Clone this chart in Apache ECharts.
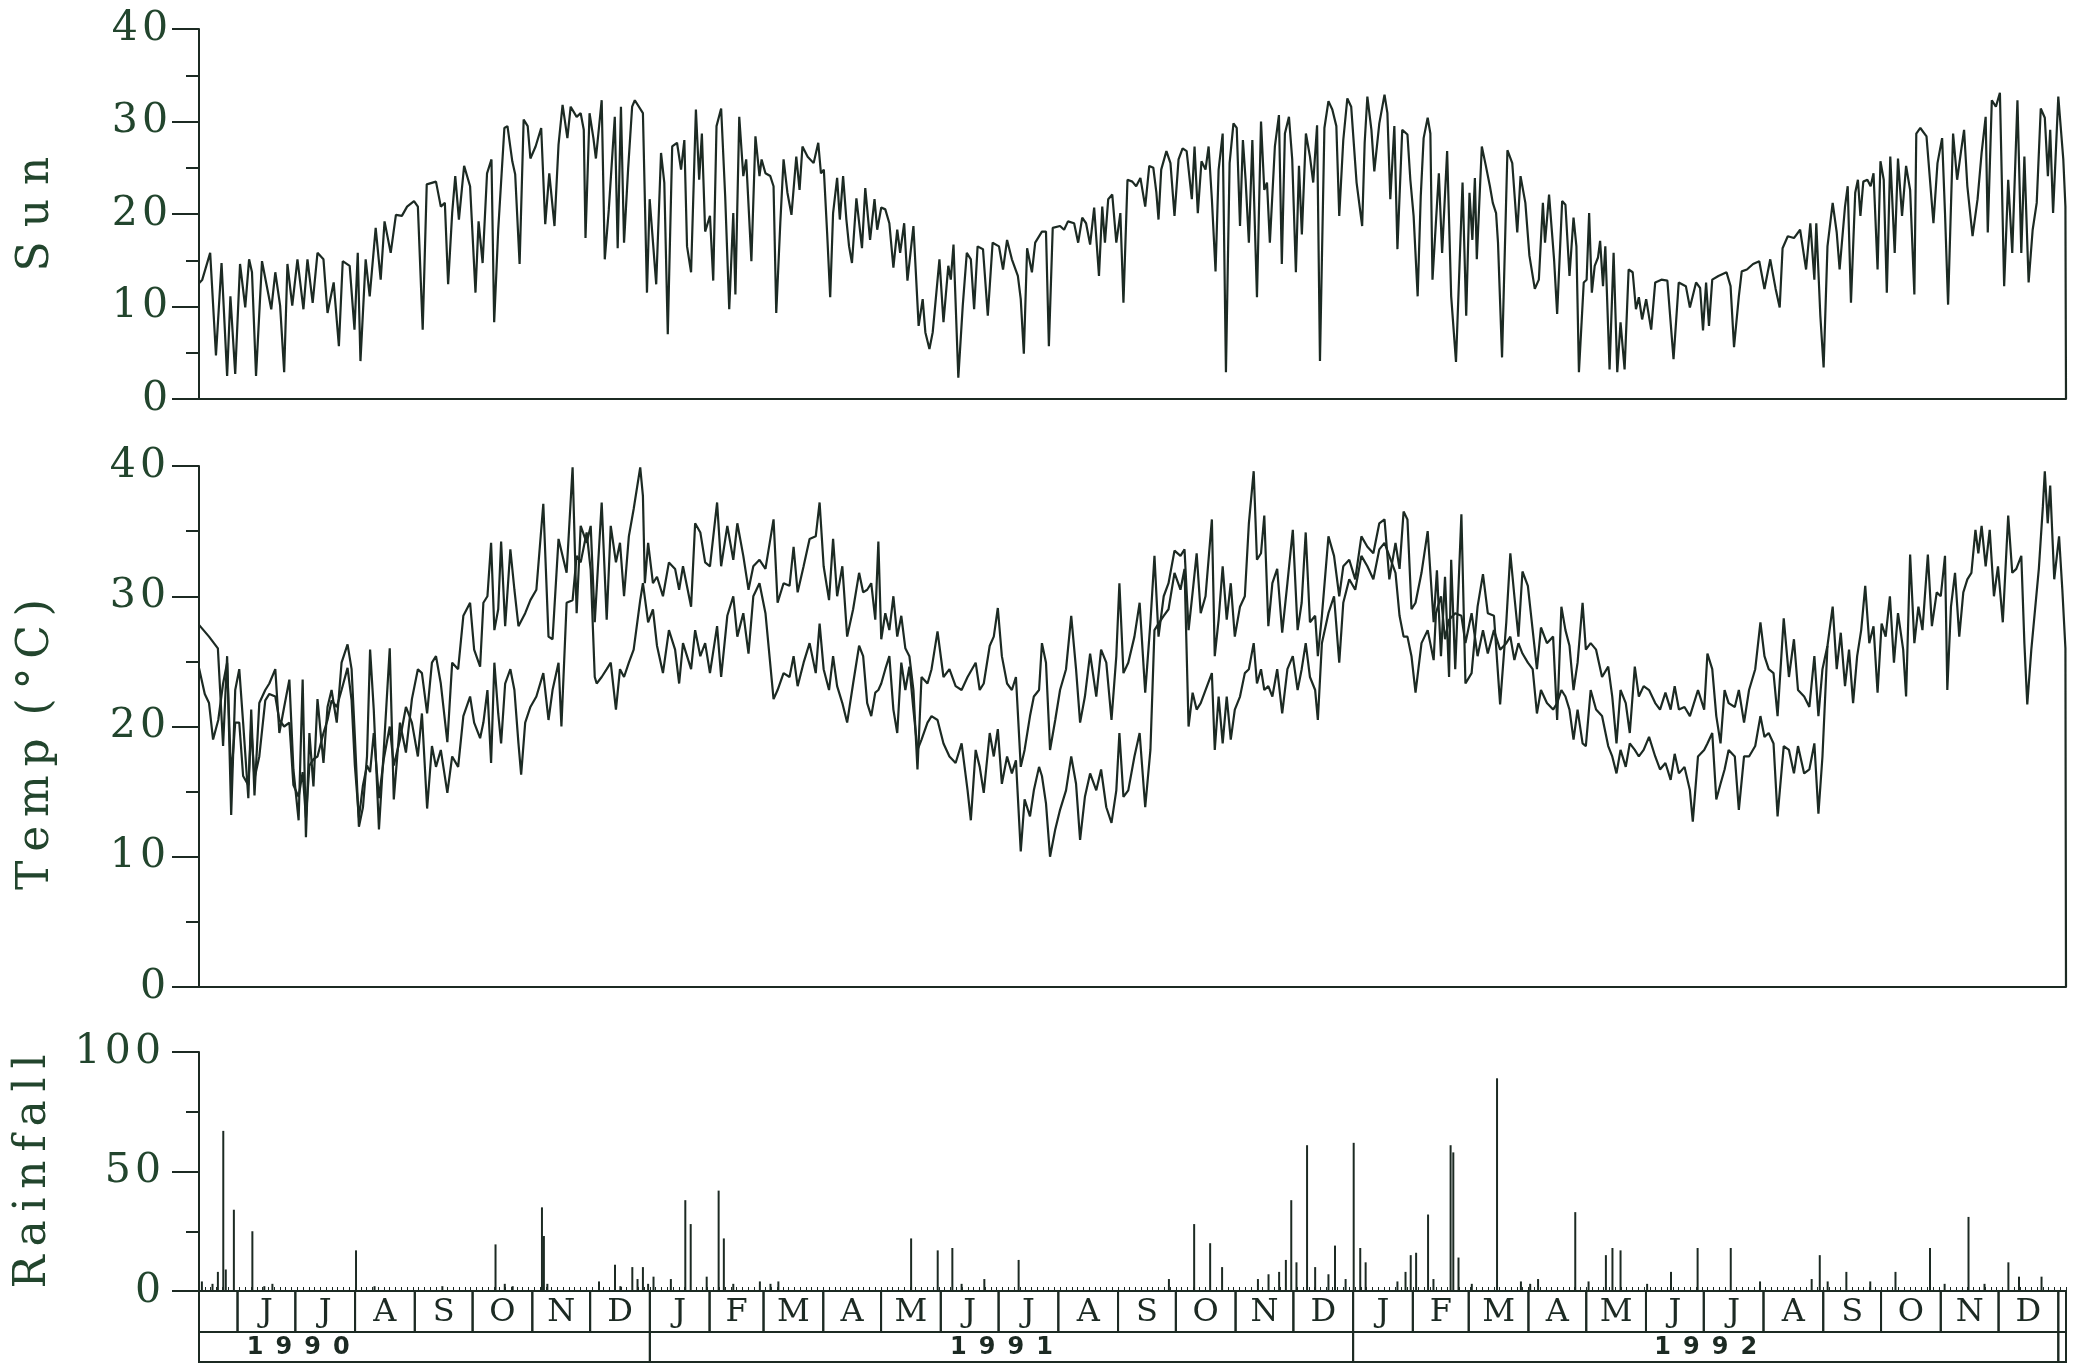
<!DOCTYPE html>
<html><head><meta charset="utf-8">
<script src="https://cdn.jsdelivr.net/npm/echarts@6/dist/echarts.min.js"></script>
<style>html,body{margin:0;padding:0;background:#fff}#c{width:2083px;height:1365px}</style>
</head><body><div id="c"></div>
<script>
// Day index 0 = 12 May 1990; axis ends at day 969 (4 Jan 1993)
const START_DATE = Date.UTC(1990, 4, 12);
const END_DAY = 969;

// Sun readings [day, value]
const sunReadings = [[0,12.5],[1.7,12.9],[5.8,15.8],[8.8,4.7],[11.7,14.7],[14.6,2.5],[16.3,11.1],[18.8,2.7],[21.3,14.6],[24,9.9],[26,15.1],[27.5,13.7],[29.6,2.5],[32.7,14.9],[37.5,9.7],[39.6,13.7],[42.1,10.1],[44.2,2.9],[45.9,14.6],[48.4,10.1],[51.1,15.1],[54.2,9.7],[56.3,15.1],[59,10.4],[61.5,15.8],[64.6,15.1],[66.7,9.3],[69.9,12.6],[72.6,5.7],[74.6,14.9],[78.2,14.4],[80.7,7.5],[82.4,15.8],[83.8,4.1],[86.5,15.1],[88.6,11.1],[91.7,18.5],[94.3,12.9],[96.3,19.2],[99.5,15.8],[102.2,19.9],[105.3,19.8],[108,20.8],[111.6,21.4],[113.6,20.8],[116.1,7.5],[118.2,23.2],[123,23.5],[125.5,20.8],[127.6,21.2],[129.3,12.4],[131.4,20.1],[133,24.1],[134.9,19.4],[137.6,25.2],[140.7,23],[143.5,11.5],[145.1,19.2],[147.2,14.7],[149.5,24.4],[151.8,25.9],[153.2,8.3],[155.3,18.3],[158.5,29.3],[160.1,29.5],[162.6,25.7],[164.1,24.3],[166.4,14.6],[168.5,30.2],[170.6,29.5],[172,26],[174.7,27.3],[177.6,29.3],[179.7,18.9],[181.8,24.4],[184.5,18.7],[186.6,27.5],[188.7,31.8],[191.2,28.2],[192.9,31.6],[196,30.5],[198.1,30.9],[199.7,29.1],[200.6,17.4],[202.7,30.9],[204.7,28.2],[206,26],[209,32.3],[210.6,15.1],[212.7,20.5],[215.8,30.5],[217.3,16.3],[219,31.6],[220.6,16.9],[222.7,24.8],[224.8,31.6],[226.2,32.3],[230.4,30.9],[232.5,11.5],[233.9,21.6],[237.3,12.4],[239.8,26.6],[241.5,23.4],[243.3,7],[245.6,27.3],[248.1,27.7],[250.2,24.8],[251.9,28],[253.3,16.5],[255.4,13.7],[257.9,31.3],[259.6,23.7],[261,28.7],[262.7,18.1],[265.2,19.8],[266.9,12.8],[268.6,29.5],[271,31.4],[273.1,21.9],[275.2,9.7],[277.3,20.1],[278.4,11.3],[280.4,30.5],[282.5,24.1],[284,25.9],[286.7,14.9],[288.8,28.4],[290.9,24.1],[292,25.9],[294,24.4],[296.5,24.1],[298.2,23],[299.6,9.3],[301.7,19],[303.4,25.9],[305.4,22.3],[307.5,19.9],[310,26.2],[311.7,22.6],[313.2,27.3],[315.9,26.2],[319,25.5],[321.4,27.7],[322.8,24.4],[324.3,24.8],[326,18],[327.6,11],[329.1,20.1],[331.2,23.9],[332.6,19.4],[334.3,24.1],[336,19.4],[337.4,16.5],[338.9,14.7],[341.2,21.7],[344.1,16.3],[345.8,22.8],[348.3,17.2],[350.6,21.6],[352,18.3],[354.1,20.7],[356.2,20.5],[358.3,19],[360.4,14.2],[362.4,18.3],[363.9,15.8],[366,19],[367.7,12.8],[370.8,18.7],[373.5,7.9],[375.6,10.8],[377,7.2],[379.1,5.4],[380.8,7.2],[384.3,15.1],[386.4,8.3],[388.9,14.4],[390.2,12.9],[391.6,16.7],[394.1,2.3],[396.4,10.1],[398.5,15.8],[400.6,15.1],[402.3,9.7],[404.1,16.5],[406.9,16.2],[409.4,9],[411.9,16.9],[415.2,16.5],[417.3,14],[419.4,17.2],[421.9,15.1],[425,13.3],[426.5,10.8],[428.1,4.9],[429.8,16.3],[432.3,13.7],[434,16.9],[437.5,18.1],[439.6,18.1],[441.1,5.7],[443.1,18.5],[446.9,18.7],[449,18.3],[451,19.2],[454.2,19],[456.3,16.9],[458.4,19.6],[460.4,19],[462.5,16.7],[464.6,20.7],[467.1,13.3],[468.8,20.8],[470.2,16.9],[471.9,21.6],[474,22.1],[476.1,16.9],[478.2,20.1],[479.8,10.4],[481.9,23.7],[484.4,23.5],[486.4,23],[488.6,23.9],[491.1,20.8],[493.2,25.2],[495.3,25],[496.9,22.3],[498,19.4],[499.4,24.8],[502.1,26.8],[504.2,25.5],[506.3,19.8],[508.4,25.9],[510.5,27.1],[512.6,26.8],[515.3,21.6],[516.7,27.3],[518.4,20.1],[520.3,25.7],[522.4,24.8],[524,27.3],[525.7,21.6],[527.6,13.8],[529.2,24.8],[531.3,28.7],[533,2.9],[534.9,25.5],[536.9,29.8],[538.6,29.3],[540.3,18.7],[541.8,28],[543.2,23.7],[544.9,16.9],[546.7,28],[549.1,11],[551.2,30],[552.9,22.6],[554.3,23.4],[555.8,16.9],[558.4,27.3],[560.5,30.7],[562,14.6],[563.6,28.7],[565.7,30.5],[567.4,25.9],[569.3,13.7],[570.9,25.2],[572.4,17.8],[574.5,28.7],[576.6,26.2],[578.3,23.4],[580.3,29.6],[581.8,4.1],[584.1,29.3],[586.2,32.2],[588.2,31.3],[590.3,29.5],[591.8,19.8],[593.9,28],[596,32.5],[598,31.6],[600.8,23.4],[603.7,18.7],[605,27.7],[606.4,32.7],[608.5,29.1],[610,24.6],[612.6,29.8],[615.3,32.9],[616.8,30.9],[618.3,21.6],[620.4,29.5],[622,16.2],[624.5,29.1],[627.2,28.6],[628.7,23.7],[630.4,19.8],[632.5,11.1],[634.1,21.9],[635.6,28.2],[637.7,30.4],[639.1,28.7],[640.2,12.9],[643.5,24.4],[645.2,15.8],[647.8,26.8],[649.9,11.1],[652.4,4],[655.8,23.4],[657.7,9],[659.4,22.3],[660.9,17.2],[662.2,23.9],[663.2,15.1],[665.8,27.3],[667.9,25.2],[670,23],[671.5,21.2],[673.2,20.1],[674.2,16.9],[676.3,4.5],[679.1,26.9],[681.6,25.5],[684.2,18],[685.9,24.1],[688.4,21.2],[690.5,15.5],[693.3,11.9],[695.4,12.9],[697.5,21.2],[698.6,16.9],[700.7,22.1],[703.3,15.1],[704.9,9.2],[707.5,21.4],[709.2,21],[711.3,13.3],[713.4,19.6],[714.9,16.5],[716.2,2.9],[718.7,12.6],[720.2,12.9],[721.5,20.1],[722.9,11.5],[724.4,14.4],[726.1,15.3],[727.2,17.1],[728.7,12.2],[729.9,16.5],[732.1,3.2],[734.2,15.8],[736.1,2.9],[737.8,8.3],[739.9,3.2],[742,14],[744.1,13.7],[745.8,9.7],[747.3,11],[749,8.6],[751.1,10.8],[753.7,7.5],[755.8,12.6],[759,12.9],[762.1,12.8],[765.3,4.3],[768,12.6],[771.7,12.2],[773.8,9.9],[777,12.6],[779.1,12],[780.6,7.4],[782.2,12.6],[783.7,7.9],[785.4,12.9],[788.6,13.3],[792.8,13.7],[794.9,12.2],[796.7,5.6],[799.2,11.1],[800.7,13.8],[803.4,14],[806.6,14.6],[809.8,14.9],[812.5,11.9],[815.5,15.1],[818.3,11.9],[820.4,9.9],[821.9,16.3],[824.6,17.6],[827.8,17.4],[831,18.3],[834.1,14],[836.3,19],[838.4,12.9],[839.4,19],[841.5,9],[843.2,3.4],[845.2,16.5],[847.9,21.2],[850,18],[851.5,14],[854.3,20.8],[855.7,23],[857.4,10.4],[859.6,22.3],[861,23.7],[862.3,19.8],[863.8,23.5],[865.9,23.7],[867.6,23],[869.1,24.4],[871.2,14],[872.7,25.7],[874.4,23.7],[876,11.5],[877.8,26.2],[880.1,15.8],[881.8,26],[883.9,19.8],[886,25.2],[888.1,22.6],[890.3,11.3],[891.3,28.7],[893.4,29.3],[896.6,28.4],[900.2,19],[902.3,25.5],[904.7,28.2],[906.2,20.1],[907.8,10.2],[910.4,28.7],[912.5,23.7],[914.6,26.9],[916.1,29.1],[917.8,23],[920.5,17.6],[923.1,21.6],[925.2,26.6],[927.3,30.5],[928.4,18],[930.5,32.3],[932.6,31.6],[934.7,33.1],[936.9,12.2],[939,23.7],[941.1,15.8],[943.8,32.3],[945.8,15.8],[947.4,26.2],[949.6,12.6],[951.7,18.3],[953.8,21.2],[955.9,31.4],[958,30.4],[959.6,24.1],[960.8,29.1],[962.3,20.1],[965,32.7],[967.6,25.9],[968.7,20.8],[969,0]];

// Temperature, upper trace [day, °C]
const tempUpperReadings = [[0,27.8],[1,27.8],[5.2,26.9],[9.8,26],[12.5,18.5],[14.6,25.4],[16.7,13.2],[18.8,22.8],[20.9,24.4],[22.9,20.3],[25.6,14.5],[27.1,21.3],[28.8,14.7],[31.3,21.8],[34.4,22.8],[36.5,23.3],[39.6,24.4],[41.7,19.5],[44.2,21.5],[46.9,23.6],[49,16.7],[51.7,12.8],[53.8,23.6],[55.5,11.5],[57.3,19.5],[59.4,15.4],[61.5,22.1],[64.6,17.2],[66.7,21.5],[68.8,22.8],[71.5,20.3],[74,24.9],[77.1,26.3],[79.2,24.4],[80.9,19.2],[83,12.3],[85.1,13.8],[87.2,17.7],[88.8,25.9],[90.7,21.3],[93.4,12.1],[95.9,18.2],[99,26],[101.1,14.4],[104.3,20.3],[107.4,18],[110.5,22.1],[113.6,24.4],[115.7,24.1],[118.4,21],[120.9,24.9],[123,25.4],[125.5,23.3],[128.9,18.8],[131.4,24.9],[134.5,24.4],[137.2,28.5],[140.7,29.5],[142.8,25.9],[145.9,24.6],[147.6,29.5],[149.7,30],[151.6,34.1],[153.3,27.4],[155.3,29],[156.8,34.2],[158.9,27.7],[161.6,33.6],[163.7,30.5],[165.8,27.7],[169.3,28.7],[172,29.7],[175.1,30.5],[178.7,37.1],[181.4,26.9],[183.5,26.7],[186.6,34.4],[190.8,31.8],[193.9,39.9],[196,28.7],[198.1,35.4],[201.2,34.1],[203.3,35.4],[205.4,28],[209,37.2],[211.6,28.2],[213.7,35.4],[216.4,32.6],[218.5,34.1],[220.6,30],[223.1,34.6],[225.6,36.7],[229,39.9],[230.4,37.7],[231.4,31],[233.1,34.1],[235.6,31],[237.7,31.5],[240.8,30],[243.9,32.6],[247.1,32.1],[249.2,30.5],[251.2,32.3],[255.4,29.2],[257.5,35.6],[260.2,34.9],[262.7,32.6],[265.2,32.3],[268.9,37.2],[271,32.3],[274.2,35.4],[277.3,32.8],[279.4,35.6],[282.5,33.1],[285.2,30.5],[287.7,32.3],[290.9,32.8],[294,32.1],[298.2,35.9],[300.3,29.5],[303.4,31],[306.5,30.8],[308.6,33.8],[310.7,30.3],[313.8,32.3],[316.9,34.4],[320.1,34.6],[322.1,37.2],[324.2,32.3],[327,29.7],[329.1,34.4],[331.2,30],[333.9,32.3],[336.4,26.9],[339.5,29],[342.6,31.8],[344.7,30.3],[346.8,30.5],[348.9,31],[351,28.2],[352.6,34.2],[354.1,26.7],[356.2,28.7],[358.3,27.4],[360.4,30],[362.4,26.9],[364.5,28.5],[366.6,26],[368.7,25.4],[370.8,22.8],[372.9,16.7],[375,23.8],[378.1,23.3],[380.2,24.4],[383.3,27.3],[386.4,23.8],[389.5,24.4],[392.7,23.1],[395.8,22.8],[398.9,23.8],[403.1,24.9],[405.2,22.8],[407.3,23.3],[410.4,26.2],[412.5,26.9],[414.6,29.1],[416.7,25.4],[419.4,23.3],[421.9,22.8],[424,23.8],[426.5,16.9],[428.5,18.2],[431.3,20.8],[433.3,22.3],[436,22.8],[437.5,26.4],[439.6,24.9],[441.7,18.2],[444.4,20.5],[446.9,22.8],[450,24.4],[452.7,28.5],[455.2,24.4],[457.3,20.3],[459.8,22.3],[462.5,25.6],[465.7,22.3],[468.2,25.9],[470.9,24.9],[473.6,20.5],[476.1,25.4],[477.7,31],[479.8,24.1],[482.3,24.9],[485.5,26.9],[488.2,29.5],[491.1,22.6],[493.8,28],[495.9,33.1],[498,26.9],[500.7,30],[503.2,31],[506.3,33.5],[509.4,33.1],[511.5,33.6],[513.6,27.4],[515.7,30.3],[517.8,33.3],[519.9,28.7],[522.4,30],[525.7,35.9],[527.2,25.4],[529.2,28.2],[531.3,32.3],[533.4,28.2],[535.5,31],[537.6,26.9],[540.3,29.2],[542.8,30],[544.9,35.6],[547.4,39.6],[549.1,32.8],[551.2,33.3],[552.9,36.2],[555,27.7],[557.1,31],[559.6,32.1],[562.2,27.2],[564.9,31],[567.7,35.1],[570.2,27.4],[572.3,29.5],[574.4,34.9],[576.6,28],[579.3,28.5],[580.7,25.4],[582.8,28.5],[586.2,34.6],[589.1,33.1],[591.8,30],[593.9,32.3],[597,32.8],[600.1,31.3],[603.3,34.6],[606.4,33.8],[609.5,33.3],[612.6,35.6],[615.3,35.9],[617.8,31.3],[621,34.1],[623.1,32.1],[625.2,36.5],[627.2,35.9],[629.3,29],[631.4,29.5],[634.5,31.8],[637.7,35],[640.8,28],[642.5,32],[644.6,25.4],[646.7,31.5],[648.8,23.8],[649.9,32.8],[652,24.4],[655.2,36.3],[657.3,23.3],[660.5,24.1],[663.6,29.2],[666.4,31.7],[668.9,28.7],[672.1,28.5],[675.3,21.7],[678.5,28],[680.6,33.3],[682.7,30],[684.8,26.9],[686.9,31.9],[689.7,30.8],[692.2,27.4],[694.4,24.4],[696.5,27.6],[699.6,26.4],[702.8,26.9],[704.9,20.5],[707.1,29.2],[709.2,27.4],[711.3,26.2],[713.4,22.8],[715.5,24.9],[718.1,29.5],[719.8,25.9],[722.3,26.4],[725.1,25.9],[728.2,23.8],[731.4,24.6],[733.5,22.3],[735.7,18.7],[737.8,22.8],[740.5,21.8],[742.6,19.5],[745.2,24.6],[747.3,22.3],[749.8,23.1],[752.6,22.8],[755.8,21.8],[758.3,21.3],[761.1,22.6],[763.8,21.3],[765.9,23.1],[768.1,21.3],[771,21.5],[773.8,20.8],[778,22.8],[781.2,21.3],[782.9,25.6],[785.4,24.4],[787.5,20.8],[789.7,18.7],[791.8,22.8],[793.9,21.8],[797.1,21.5],[799.2,22.8],[801.9,20.3],[804.5,22.8],[807.7,24.4],[810.4,28],[812.5,25.4],[814.7,24.4],[817.2,24.1],[819.3,20.8],[822.5,28.3],[825.2,23.8],[827.8,26.7],[829.9,22.8],[833.1,22.3],[835.8,21.5],[838.4,25.4],[840.5,20.8],[842.6,24.4],[845.2,26.2],[847.9,29.2],[850,24.4],[852.1,27.2],[854.3,23.1],[856.4,25.9],[858.5,21.8],[860.6,25.4],[862.7,27.4],[864.8,30.8],[866.9,26.4],[869.1,27.7],[871.2,22.6],[873.3,27.9],[875.4,26.9],[877.6,30],[879.7,24.9],[881.8,28.7],[884.5,25.9],[886,22.3],[888.1,33.2],[890.3,26.4],[892.4,29.2],[894.5,27.4],[897.3,33.2],[899.4,27.7],[901.9,30.3],[904,30],[906.2,33.1],[907.4,22.8],[909.3,29.2],[911.4,31.8],[913.6,26.9],[915.7,30.3],[917.8,31.3],[919.9,31.8],[922,35.1],[923.5,33.3],[925.2,35.4],[927.3,32.3],[929.4,35.1],[931.6,30],[933.7,32.3],[936.2,28],[939,36.2],[941.1,31.8],[943.2,32.1],[945.8,33.1],[947.4,26.4],[948.9,21.7],[951,25.9],[954.9,32.1],[957,36.9],[958,39.6],[959.5,35.6],[960.8,38.5],[962.9,31.3],[965.4,34.6],[967.1,30.5],[968.7,26],[969,0]];

// Temperature, lower trace [day, °C] (joins the upper trace from Sept 1992)
const tempLowerReadings = [[0,24.5],[3,22.5],[5.2,21.8],[7.3,19],[10,20.5],[12.5,23.3],[14.6,24.9],[16.7,16],[18.8,20.3],[20.9,20.3],[22.9,16.2],[25.6,15.5],[27.1,20],[28.8,16],[31.3,17.7],[34.4,22],[36.5,22.5],[39.6,22.3],[41.7,20.5],[44.2,20],[46.9,20.3],[49,15.5],[51.7,14.6],[53.8,16.5],[55.5,13],[57.3,17],[59.4,17.5],[61.5,17.7],[64.6,19.5],[66.7,20.5],[68.8,22],[71.5,21.5],[74,22.8],[77.1,24.5],[79.2,22],[80.9,17],[83,13],[85.1,15.5],[87.2,17],[88.8,16.5],[90.7,19.5],[93.4,14.5],[95.9,17.5],[99,20],[101.1,17],[104.3,19],[107.4,21.5],[110.5,20.3],[113.6,17.7],[115.7,21],[118.4,13.7],[120.9,18.5],[123,16.9],[125.5,18.2],[128.9,14.9],[131.4,17.7],[134.5,16.9],[137.2,20.8],[140.7,22.3],[142.8,20.3],[145.9,19.1],[147.6,20.3],[149.7,22.8],[151.6,17.2],[153.3,24.9],[155.3,21],[156.8,18.7],[158.9,23.3],[161.6,24.4],[163.7,22.8],[165.8,18.7],[167.2,16.3],[169.3,20.3],[172,21.5],[175.1,22.3],[178.7,24.1],[181.4,20.5],[183.5,22.8],[186.6,24.9],[188.1,20],[190.8,29.5],[193.9,29.7],[196,33.1],[198.1,32.6],[201.2,34.9],[203.3,32],[205.4,23.8],[206.4,23.3],[209,23.8],[211.6,24.4],[213.7,24.9],[216.4,21.3],[218.5,24.4],[220.6,23.8],[223.1,24.9],[225.6,25.9],[229,29.7],[230.4,31],[233.1,28],[235.6,29],[237.7,26.2],[240.8,24.1],[243.9,27.4],[247.1,25.9],[249.2,23.3],[251.2,26.4],[255.4,24.4],[257.5,27.4],[260.2,25.4],[262.7,26.4],[265.2,24.1],[268.9,27.7],[271,23.8],[274.2,28.5],[277.3,30],[279.4,26.9],[282.5,28.7],[285.2,25.6],[287.7,30],[290.9,31],[294,28.7],[298.2,22.1],[300.3,22.8],[303.4,24.1],[306.5,23.8],[308.6,25.4],[310.7,23.1],[313.8,24.9],[316.9,26.4],[320.1,24.1],[322.1,27.9],[324.2,24.4],[327,22.8],[329.1,25.4],[331.2,23.1],[333.9,21.8],[336.4,20.3],[339.5,23.3],[342.6,26.2],[344.7,25.4],[346.8,21.8],[348.9,20.8],[351,22.6],[352.6,22.8],[354.1,23.3],[356.2,24.4],[358.3,25.4],[360.4,21.3],[362.4,19.5],[364.5,24.9],[366.6,22.8],[368.7,24.6],[370.8,21.3],[372.9,18.2],[375,19],[378.1,20.3],[380.2,20.8],[383.3,20.5],[386.4,18.7],[389.5,17.7],[392.7,17.2],[395.8,18.7],[398.9,15.1],[400.6,12.8],[403.1,18.2],[405.2,16.9],[407.3,14.9],[410.4,19.5],[412.5,17.7],[414.6,19.8],[416.7,15.6],[419.4,17.7],[421.9,16.4],[424,17.4],[426.5,10.4],[428.5,14.4],[431.3,13.1],[433.3,15.1],[436,16.9],[437.5,16.2],[439.6,14.1],[441.7,10],[444.4,12.1],[446.9,13.6],[450,15.1],[452.7,17.7],[455.2,15.6],[457.3,11.3],[459.8,14.6],[462.5,16.4],[465.7,15.1],[468.2,16.7],[470.9,13.8],[473.6,12.6],[476.1,15.1],[477.7,19.5],[479.8,14.6],[482.3,15.1],[485.5,17.7],[488.2,19.5],[491.1,13.8],[493.8,18.2],[495.9,27.4],[498,27.9],[500.7,28.5],[503.2,29],[506.3,31.8],[509.4,30.5],[511.5,32.1],[513.6,20],[515.7,22.6],[517.8,21.3],[519.9,21.8],[522.4,22.8],[525.7,24.1],[527.2,18.2],[529.2,22.3],[531.3,18.7],[533.4,22.3],[535.5,19],[537.6,21.3],[540.3,22.3],[542.8,24.1],[544.9,24.4],[547.4,26.4],[549.1,23.3],[551.2,24.4],[552.9,22.8],[555,23.1],[557.1,22.3],[559.6,24.4],[562.2,21],[564.9,24.4],[567.7,25.4],[570.2,22.8],[572.3,24.4],[574.4,26.4],[576.6,23.8],[579.3,22.8],[580.7,20.5],[582.8,26.4],[586.2,28.7],[589.1,30],[591.8,24.9],[593.9,29.5],[597,31.3],[600.1,30.5],[603.3,33.1],[606.4,32.3],[609.5,31.3],[612.6,33.6],[615.3,34.1],[617.8,33.1],[621,31.8],[623.1,28.5],[625.2,26.9],[627.2,26.9],[629.3,25.4],[631.4,22.6],[634.5,26.4],[637.7,27.4],[640.8,25.1],[642,28.7],[644.6,30],[646.7,26.7],[648.8,28.2],[652,28.7],[655.2,28.5],[657.3,26.4],[660.5,28.7],[663.6,25.4],[666.4,27.4],[668.9,25.6],[672.1,27.4],[675.3,25.9],[678.5,26.4],[680.6,26.9],[682.7,25.1],[684.8,26.4],[686.9,25.6],[689.7,24.9],[692.2,24.4],[694.4,21],[696.5,22.8],[699.6,21.8],[702.8,21.3],[704.9,21.8],[707.1,22.8],[709.2,22.3],[711.3,21.3],[713.4,19],[715.5,21.3],[718.1,18.7],[719.8,18.5],[722.3,22.8],[725.1,21.3],[728.2,20.8],[731.4,18.5],[733.5,17.7],[735.7,16.4],[737.8,18.2],[740.5,16.9],[742.6,18.7],[745.2,18.2],[747.3,17.7],[749.8,18.2],[752.6,19.2],[755.8,17.7],[758.3,16.7],[761.1,17.2],[763.8,15.9],[765.9,17.9],[768.1,16.4],[771,16.9],[773.8,15.1],[775.3,12.7],[778,17.7],[781.2,18.2],[782.9,18.7],[785.4,19.5],[787.5,14.4],[789.7,15.6],[791.8,16.7],[793.9,18.2],[797.1,17.7],[799.2,13.6],[801.9,17.7],[804.5,17.7],[807.7,18.5],[810.4,20.8],[812.5,19.2],[814.7,19.5],[817.2,18.7],[819.3,13.1],[822.5,18.5],[825.2,18.2],[827.8,16.4],[829.9,18.5],[833.1,16.4],[835.8,16.7],[838.4,18.7],[840.5,13.3],[842.6,17.7],[845.2,26.2]];

// Rainfall spikes [day, mm]
const rainReadings = [[1.5,4],[7,3],[9.8,8],[12.6,67],[13.9,9],[18.1,34],[27.7,25],[33.9,2],[38.1,3],[81.5,17],[91.1,2],[126.3,2],[153.9,19.5],[158.7,3],[162.8,2],[178,35],[179,23],[180.8,3],[207.6,4],[215.9,11],[218.7,2],[224.9,10],[227.6,5],[230.4,10],[233.1,3],[235.9,6],[244.9,5],[252.4,38],[255.2,28],[263.5,6],[269.7,42],[272.4,22],[277.3,3],[291.1,4],[296.6,3],[300.7,4],[369.6,22],[383.4,17],[391,18],[395.8,3],[407.6,5],[425.4,13],[503.4,5],[516.5,28],[524.8,20],[531,10],[549.6,5],[555.1,7],[560.6,8],[564.1,13],[566.9,38],[569.6,12],[575.1,61],[579.3,10],[586.2,7],[589.6,19],[595.1,5],[599.3,62],[602.7,18],[605.5,12],[622,4],[626.2,8],[628.9,15],[631.7,16],[637.9,32],[640.7,5],[649.6,61],[651,58],[653.7,14],[660.6,3],[673.7,89],[686.1,4],[690.9,3],[695,5],[714.3,33],[721.2,4],[730.2,15],[733.6,18],[737.8,17],[751.6,3],[764,8],[777.8,18],[795,18],[810.2,4],[837,5],[841.2,15],[845.3,4],[855,8],[867.4,4],[880.5,8],[898.4,18],[906,3],[918.4,31],[926.7,3],[939.1,12],[944.6,6],[956.3,6]];

const monthLetters = ['J','F','M','A','M','J','J','A','S','O','N','D'];
const labelledYears = [1990, 1991, 1992];
const sunTicks = {min: 0, max: 40, step: 10};
const tempTicks = {min: 0, max: 40, step: 10};
const rainTicks = {min: 0, max: 100, step: 50};

const INK = '#1c2a23';
const LABEL = '#22452d';
const SERIF = '"DejaVu Serif", "Liberation Serif", serif';

const dayOf = (y, m, d) => (Date.UTC(y, m, d) - START_DATE) / 864e5;
const monthBoxes = [];
for (let y = 1990; y <= 1993; y++) for (let m = 0; m < 12; m++) {
  const s = dayOf(y, m, 1), e = dayOf(y, m + 1, 1);
  if (e <= 0 || s >= END_DAY) continue;
  const full = s >= 0 && e <= END_DAY;
  monthBoxes.push([Math.max(0, s), Math.min(END_DAY, e), full ? monthLetters[m] : '']);
}
const yearBoxes = [];
for (let y = 1990; y <= 1993; y++) {
  const s = dayOf(y, 0, 1), e = dayOf(y + 1, 0, 1);
  if (e <= 0 || s >= END_DAY) continue;
  yearBoxes.push([Math.max(0, s), Math.min(END_DAY, e), labelledYears.includes(y) ? String(y) : '', (s + e) / 2]);
}

const spaced = v => String(v).split('').join('\u200A');

function yAxisFor(gridIndex, ticks, name, gap, margin, namePad) {
  return {
    gridIndex, type: 'value', min: ticks.min, max: ticks.max, interval: ticks.step,
    name, nameLocation: 'middle', nameRotate: 90, nameGap: gap,
    nameTextStyle: {fontFamily: SERIF, fontSize: 44, color: LABEL, padding: namePad || 0},
    axisLine: {show: true, lineStyle: {color: INK, width: 2}},
    axisTick: {show: true, length: 27, lineStyle: {color: INK, width: 2}},
    minorTick: {show: true, splitNumber: 2, length: 13, lineStyle: {color: INK, width: 2}},
    splitLine: {show: false}, minorSplitLine: {show: false},
    axisLabel: {margin, fontFamily: SERIF, fontSize: 41, color: LABEL, formatter: spaced}
  };
}
function xAxisFor(gridIndex, extra) {
  return Object.assign({
    gridIndex, type: 'value', min: 0, max: END_DAY, interval: 3,
    axisLine: {show: true, onZero: false, lineStyle: {color: INK, width: 2}},
    axisTick: {show: false}, axisLabel: {show: false}, splitLine: {show: false}
  }, extra || {});
}

const lineStyle = {color: INK, width: 2.2};
const chart = echarts.init(document.getElementById('c'), null, {renderer: 'canvas'});
chart.setOption({
  animation: false,
  backgroundColor: '#fff',
  grid: [
    {left: 199, right: 17, top: 29, height: 370},
    {left: 199, right: 17, top: 466, height: 521},
    {left: 199, right: 17, top: 1052, height: 239},
    {left: 199, right: 17, top: 1291, height: 71}
  ],
  xAxis: [
    xAxisFor(0), xAxisFor(1),
    xAxisFor(2, {axisTick: {show: true, inside: true, length: 4, lineStyle: {color: INK, width: 1}}}),
    xAxisFor(3, {show: false})
  ],
  yAxis: [
    yAxisFor(0, sunTicks, 'S u n', 140, 31),
    yAxisFor(1, tempTicks, 'T\u2009e\u2009m\u2009p \u2009(\u2009°\u2009C\u2009)', 140, 33, [0, 36, 0, 0]),
    yAxisFor(2, rainTicks, 'R\u2009a\u2009i\u2009n\u2009f\u2009a\u2009l\u2009l', 143, 38),
    {gridIndex: 3, type: 'value', min: 0, max: 71, show: false}
  ],
  series: [
    {type: 'line', xAxisIndex: 0, yAxisIndex: 0, data: sunReadings, showSymbol: false, lineStyle, silent: true},
    {type: 'line', xAxisIndex: 1, yAxisIndex: 1, data: tempLowerReadings, showSymbol: false, lineStyle, silent: true},
    {type: 'line', xAxisIndex: 1, yAxisIndex: 1, data: tempUpperReadings, showSymbol: false, lineStyle, silent: true},
    {type: 'bar', xAxisIndex: 2, yAxisIndex: 2, data: rainReadings, barWidth: 2, itemStyle: {color: INK}, silent: true},
    {
      type: 'custom', xAxisIndex: 3, yAxisIndex: 3, silent: true, clip: false,
      data: monthBoxes.map(b => [b[0], b[1]]),
      renderItem: (params, api) => {
        const b = monthBoxes[params.dataIndex];
        const p0 = api.coord([b[0], 71]), p1 = api.coord([b[1], 30]);
        return {type: 'group', children: [
          {type: 'rect', shape: {x: p0[0], y: p0[1], width: p1[0] - p0[0], height: p1[1] - p0[1]},
           style: {fill: null, stroke: INK, lineWidth: 2}},
          {type: 'text', style: {text: b[2], x: (p0[0] + p1[0]) / 2, y: (p0[1] + p1[1]) / 2 + 1,
           align: 'center', verticalAlign: 'middle', fontFamily: SERIF, fontSize: 32, fill: INK}}
        ]};
      }
    },
    {
      type: 'custom', xAxisIndex: 3, yAxisIndex: 3, silent: true, clip: false,
      data: yearBoxes.map(b => [b[0], b[1]]),
      renderItem: (params, api) => {
        const b = yearBoxes[params.dataIndex];
        const p0 = api.coord([b[0], 30]), p1 = api.coord([b[1], 0]);
        const mid = api.coord([b[3], 15]);
        return {type: 'group', children: [
          {type: 'rect', shape: {x: p0[0], y: p0[1], width: p1[0] - p0[0], height: p1[1] - p0[1]},
           style: {fill: null, stroke: INK, lineWidth: 2}},
          {type: 'text', style: {text: b[2].split('').join('\u2002'), x: mid[0], y: (p0[1] + p1[1]) / 2 + 1,
           align: 'center', verticalAlign: 'middle', fontFamily: '"DejaVu Sans", sans-serif', fontWeight: 'bold', fontSize: 24, fill: INK}}
        ]};
      }
    }
  ]
});
</script></body></html>
